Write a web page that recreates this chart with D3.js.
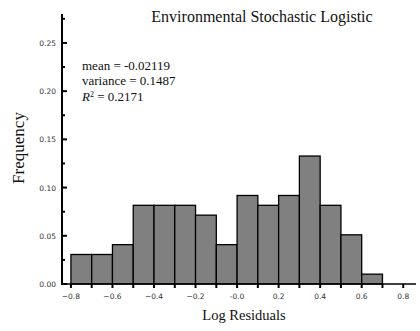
<!DOCTYPE html>
<html><head><meta charset="utf-8">
<script src="https://cdn.jsdelivr.net/npm/d3@7"></script>
<style>body{margin:0;background:#fff}svg{display:block}</style>
</head><body>
<script>
const binStarts = [-0.8,-0.7,-0.6,-0.5,-0.4,-0.3,-0.2,-0.1,0.0,0.1,0.2,0.3,0.4,0.5,0.6,0.7];
const frequencies = [0.0306,0.0306,0.0408,0.0816,0.0816,0.0816,0.0714,0.0408,0.0918,0.0816,0.0918,0.1327,0.0816,0.0510,0.0102,0];
const binWidth = 0.1;
const xTicks = [-0.8,-0.6,-0.4,-0.2,0.0,0.2,0.4,0.6,0.8];
const xMinorTicks = [-0.7,-0.5,-0.3,-0.1,0.1,0.3,0.5,0.7];
const yTicks = [0.00,0.05,0.10,0.15,0.20,0.25];
const yMinorTicks = [0.025,0.075,0.125,0.175,0.225,0.275];
const statsLines = ["mean = -0.02119","variance = 0.1487","0.2171"];

const W=420,H=331;
const svg=d3.select("body").append("svg").attr("width",W).attr("height",H);
const x=d3.scaleLinear().domain([-0.843,0.9]).range([62,424]);
const y=d3.scaleLinear().domain([0,0.28]).range([284,14]);

// bars
svg.append("g").selectAll("rect").data(binStarts).join("rect")
 .attr("x",(d)=>x(d)).attr("width",d=>x(d+binWidth)-x(d))
 .attr("y",(d,i)=>y(frequencies[i])).attr("height",(d,i)=>y(0)-y(frequencies[i]))
 .attr("fill","#808080").attr("stroke","#000").attr("stroke-width",1.3);

// x axis
const xa=svg.append("g").attr("transform","translate(0,284)");
xa.append("line").attr("x1",61).attr("x2",416).attr("stroke","#000").attr("stroke-width",1.5);
xa.call(g=>{
 g.selectAll(".mj").data(xTicks).join("line").attr("x1",d=>x(d)).attr("x2",d=>x(d)).attr("y1",0).attr("y2",4).attr("stroke","#000").attr("stroke-width",2);
 g.selectAll(".mn").data(xMinorTicks).join("line").attr("x1",d=>x(d)).attr("x2",d=>x(d)).attr("y1",0).attr("y2",4).attr("stroke","#000").attr("stroke-width",2);
 g.selectAll("text").data(xTicks).join("text").attr("x",d=>x(d)).attr("y",15)
  .attr("text-anchor","middle").attr("font-family","DejaVu Sans").attr("font-size",7.5).attr("fill","#333")
  .text(d=>d===0?"-0.0":d3.format(".1f")(d));
});

// y axis
const ya=svg.append("g");
ya.append("line").attr("x1",62).attr("x2",62).attr("y1",14).attr("y2",285).attr("stroke","#000").attr("stroke-width",2);
ya.selectAll(".mj").data(yTicks).join("line").attr("x1",62).attr("x2",67).attr("y1",d=>y(d)).attr("y2",d=>y(d)).attr("stroke","#000").attr("stroke-width",2);
ya.selectAll(".mn").data(yMinorTicks).join("line").attr("x1",62).attr("x2",65).attr("y1",d=>y(d)).attr("y2",d=>y(d)).attr("stroke","#000").attr("stroke-width",2);
ya.selectAll("text").data(yTicks).join("text").attr("x",56).attr("y",d=>y(d)+3)
 .attr("text-anchor","end").attr("font-family","DejaVu Sans").attr("font-size",7.5).attr("fill","#333")
 .text(d=>d3.format(".2f")(d));

// labels
svg.append("text").attr("x",262).attr("y",22).attr("text-anchor","middle")
 .attr("font-family","Liberation Serif").attr("font-size",16).attr("fill","#111").text("Environmental Stochastic Logistic");
svg.append("text").attr("x",244).attr("y",320).attr("text-anchor","middle")
 .attr("font-family","Liberation Serif").attr("font-size",14.5).attr("fill","#111").text("Log Residuals");
svg.append("text").attr("transform","translate(24,148) rotate(-90)").attr("text-anchor","middle")
 .attr("font-family","Liberation Serif").attr("font-size",17).attr("fill","#111").text("Frequency");

const st=svg.append("g").attr("font-family","Liberation Serif").attr("font-size",13).attr("fill","#111");
st.append("text").attr("x",82).attr("y",70).text(statsLines[0]);
st.append("text").attr("x",82).attr("y",85).text(statsLines[1]);
const r=st.append("text").attr("x",82).attr("y",101);
r.append("tspan").attr("font-style","italic").text("R");
r.append("tspan").attr("font-size",8).attr("dy",-4).text("2");
r.append("tspan").attr("dy",4).text(" = "+statsLines[2]);
</script>
</body></html>
